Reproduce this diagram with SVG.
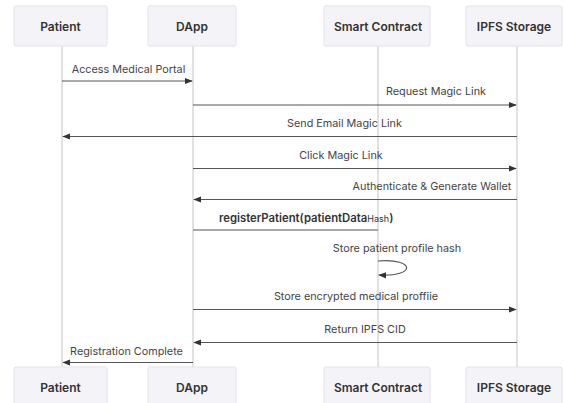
<svg xmlns="http://www.w3.org/2000/svg" width="564" height="403" viewBox="0 0 564 403">
<style>
.box{fill:#f4f4f8;stroke:#e2e2ea;stroke-width:1}
.actor{font-family:Inter,"Liberation Sans",sans-serif;font-size:12px;font-weight:600;fill:#333;text-anchor:middle;dominant-baseline:central}
.life{stroke:#c4c4cc;stroke-width:1}
.msg{stroke:#555;stroke-width:1.2;fill:none}
.lbl{font-family:Inter,"Liberation Sans",sans-serif;font-size:10.8px;fill:#444;text-anchor:middle;dominant-baseline:central}
</style>
<defs>
<marker id="ah" viewBox="0 0 10 10" refX="9" refY="5" markerWidth="8" markerHeight="8" markerUnits="userSpaceOnUse" orient="auto">
<path d="M0,1 L10,5 L0,9 z" fill="#333"/>
</marker>
</defs>
<rect width="564" height="403" fill="#fff"/>
<g id="lifelines">
<line class="life" x1="62" y1="46" x2="62" y2="367"/>
<line class="life" x1="193" y1="46" x2="193" y2="367"/>
<line class="life" x1="378" y1="46" x2="378" y2="367"/>
<line class="life" x1="517" y1="46" x2="517" y2="367"/>
</g>
<g id="patient-top"><rect class="box" x="14" y="6" width="93" height="40" rx="2"/><text class="actor" x="60.5" y="26">Patient</text></g>
<g id="dapp-top"><rect class="box" x="148" y="6" width="88" height="40" rx="2"/><text class="actor" x="192" y="26">DApp</text></g>
<g id="contract-top"><rect class="box" x="324" y="6" width="106" height="40" rx="2"/><text class="actor" x="378" y="26">Smart Contract</text></g>
<g id="ipfs-top"><rect class="box" x="466" y="6" width="96" height="40" rx="2"/><text class="actor" x="514" y="26">IPFS Storage</text></g>
<g id="patient-bottom"><rect class="box" x="14" y="367" width="93" height="40" rx="2"/><text class="actor" x="60.5" y="387">Patient</text></g>
<g id="dapp-bottom"><rect class="box" x="148" y="367" width="88" height="40" rx="2"/><text class="actor" x="192" y="387">DApp</text></g>
<g id="contract-bottom"><rect class="box" x="324" y="367" width="106" height="40" rx="2"/><text class="actor" x="378" y="387">Smart Contract</text></g>
<g id="ipfs-bottom"><rect class="box" x="466" y="367" width="96" height="40" rx="2"/><text class="actor" x="514" y="387">IPFS Storage</text></g>
<g id="connectors">
<line class="msg" x1="62" y1="81" x2="192" y2="81" marker-end="url(#ah)"/>
<line class="msg" x1="193" y1="105" x2="516" y2="105" marker-end="url(#ah)"/>
<line class="msg" x1="517" y1="136.5" x2="63" y2="136.5" marker-end="url(#ah)"/>
<line class="msg" x1="193" y1="168.5" x2="516" y2="168.5" marker-end="url(#ah)"/>
<line class="msg" x1="517" y1="199.5" x2="194" y2="199.5" marker-end="url(#ah)"/>
<line class="msg" x1="193" y1="230" x2="378" y2="230"/>
<path class="msg" d="M378,261 C416,258 416,277 379,275" marker-end="url(#ah)"/>
<line class="msg" x1="193" y1="309.5" x2="516" y2="309.5" marker-end="url(#ah)"/>
<line class="msg" x1="517" y1="342.5" x2="194" y2="342.5" marker-end="url(#ah)"/>
<line class="msg" x1="193" y1="362.5" x2="63" y2="362.5" marker-end="url(#ah)"/>
</g>
<g id="labels">
<text class="lbl" x="128.5" y="69">Access Medical Portal</text>
<text class="lbl" x="436" y="91.5">Request Magic Link</text>
<text class="lbl" x="344.5" y="123">Send Email Magic Link</text>
<text class="lbl" x="341" y="155">Click Magic Link</text>
<text class="lbl" x="432" y="186.5">Authenticate &amp; Generate Wallet</text>
<text class="lbl" x="219" y="217.5" style="text-anchor:start;font-weight:600;fill:#333;font-size:11.3px">registerPatient(patientData<tspan style="font-weight:400;font-size:9px">Hash</tspan>)</text>
<text class="lbl" x="397" y="248">Store patient profile hash</text>
<text class="lbl" x="356" y="296">Store encrypted medical proffiie</text>
<text class="lbl" x="365" y="329">Return IPFS CID</text>
<text class="lbl" x="126.5" y="351">Registration Complete</text>
</g>
</svg>
